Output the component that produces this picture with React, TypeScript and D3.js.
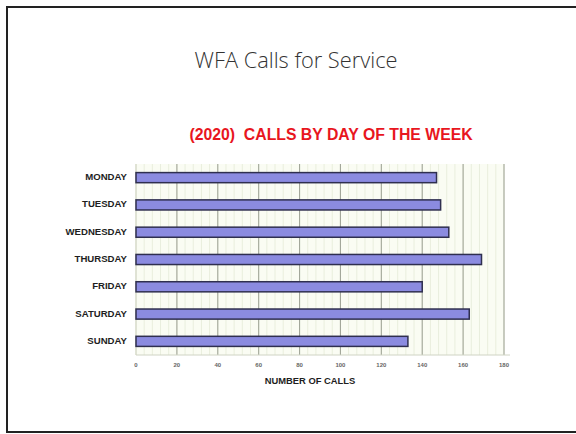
import React from 'react';
import * as d3 from 'd3';

const days = ['MONDAY', 'TUESDAY', 'WEDNESDAY', 'THURSDAY', 'FRIDAY', 'SATURDAY', 'SUNDAY'];
const calls = [147, 149, 153, 169, 140, 163, 133];
const xTicks = [0, 20, 40, 60, 80, 100, 120, 140, 160, 180];

const App = () => {
  const width = 576;
  const height = 434;
  const plot = { left: 136, right: 504, top: 164, bottom: 355 };

  const xScale = d3.scaleLinear().domain([0, 180]).range([plot.left, plot.right]);
  const yScale = d3
    .scaleBand()
    .domain(days)
    .range([plot.top, plot.bottom])
    .paddingInner(0.63)
    .paddingOuter(0.315);

  const minorTicks = d3.range(0, 181, 4);

  const minorLines = minorTicks.map((t, i) => (
    <line key={i} x1={xScale(t)} x2={xScale(t)} y1={plot.top} y2={plot.bottom}
      stroke="#e9eedd" strokeWidth={1} />
  ));

  const majorLines = xTicks.map((t, i) => (
    <line key={i} x1={xScale(t)} x2={xScale(t)} y1={plot.top} y2={plot.bottom}
      stroke={t === 0 ? '#cfd3c2' : '#a3a79a'} strokeWidth={1.1} />
  ));

  const bars = days.map((d, i) => (
    <rect key={i}
      x={xScale(0)}
      y={yScale(d)}
      width={xScale(calls[i]) - xScale(0)}
      height={yScale.bandwidth()}
      fill="#8b8be0"
      stroke="#2f2f4f"
      strokeWidth={1.5} />
  ));

  const labels = days.map((d, i) => (
    <text key={i} x={plot.left - 9} y={(yScale(d) as number) + yScale.bandwidth() / 2}
      textAnchor="end" dominantBaseline="middle"
      fontFamily="Liberation Sans, Arial, sans-serif" fontWeight="bold" fontSize={9.6}
      fill="#1e1e1e">{d}</text>
  ));

  const tickLabels = xTicks.map((t, i) => (
    <text key={i} x={xScale(t)} y={367} textAnchor="middle"
      fontFamily="Liberation Sans, Arial, sans-serif" fontWeight="bold" fontSize={6}
      fill="#666">{t}</text>
  ));

  return (
    <div style={{ position: 'absolute', left: 0, top: 0 }}>
      <svg width={width} height={height} style={{ display: 'block', background: '#fff' }}>
        <rect x={7} y={7} width={580} height={425} fill="#fff" stroke="#222" strokeWidth={2} />
        <text x={296} y={68} textAnchor="middle" fontFamily="Open Sans, sans-serif"
          fontWeight={300} fontSize={21.8} fill="#333">WFA Calls for Service</text>
        <text x={331} y={140} textAnchor="middle" fontFamily="Liberation Sans, Arial, sans-serif"
          fontWeight="bold" fontSize={15.8} fill="#e8161e" xmlSpace="preserve">(2020)  CALLS BY DAY OF THE WEEK</text>
        <rect x={plot.left} y={plot.top} width={plot.right - plot.left} height={plot.bottom - plot.top}
          fill="#fafcf3" />
        {minorLines}
        {majorLines}
        <line x1={plot.left} x2={plot.right + 6} y1={plot.bottom} y2={plot.bottom} stroke="#d0d4c4" strokeWidth={1} />
        {bars}
        {labels}
        {tickLabels}
        <text x={310} y={384} textAnchor="middle" fontFamily="Liberation Sans, Arial, sans-serif"
          fontWeight="bold" fontSize={9.4} fill="#1e1e1e">NUMBER OF CALLS</text>
      </svg>
    </div>
  );
};

export default App;
